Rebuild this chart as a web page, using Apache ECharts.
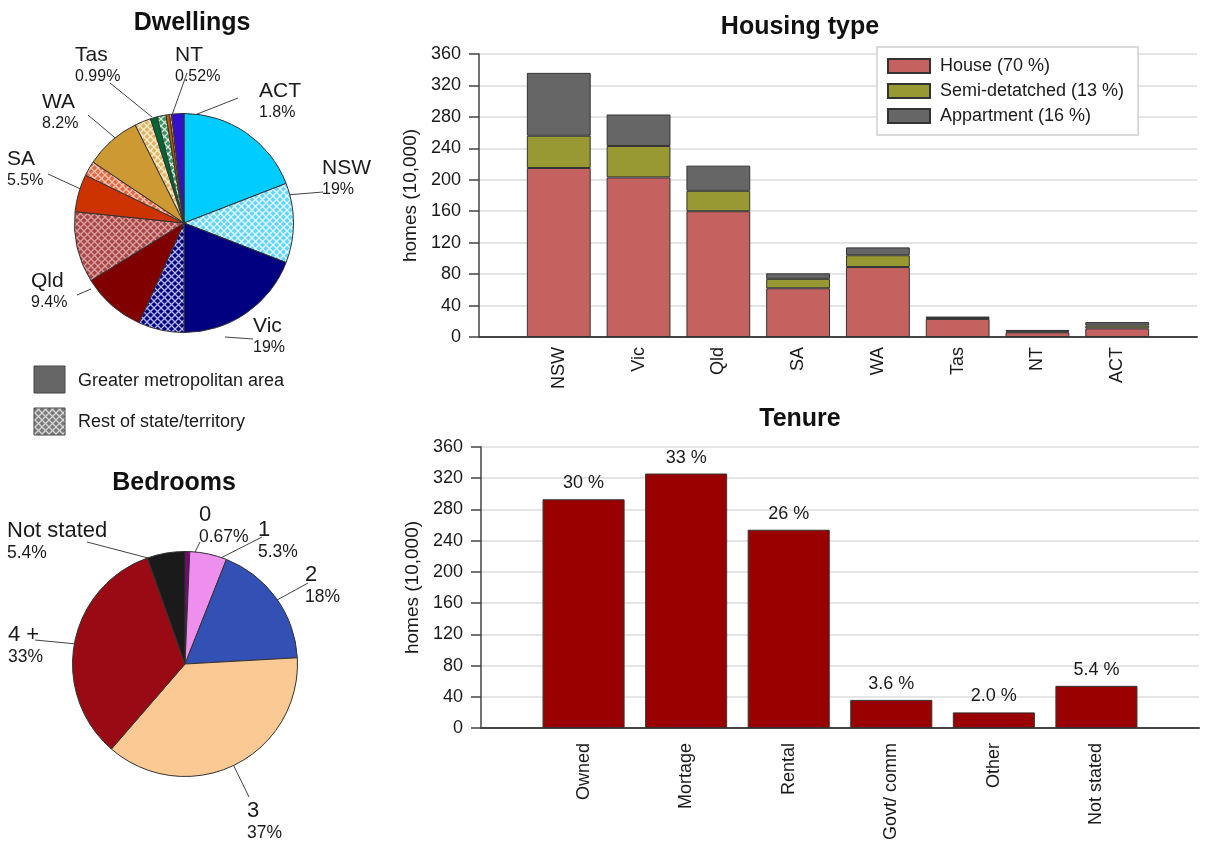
<!DOCTYPE html>
<html>
<head>
<meta charset="utf-8">
<script src="https://cdn.jsdelivr.net/npm/echarts@6/dist/echarts.min.js"></script>
<style>
  html, body { margin: 0; padding: 0; background: #fff; }
  #chart { width: 1205px; height: 843px; }
</style>
</head>
<body>
<div id="chart"></div>
<script>
// ---- Dwellings by state (per cent of all dwellings) ----
const states = ['NSW', 'Vic', 'Qld', 'SA', 'WA', 'Tas', 'NT', 'ACT'];
const metroShare = [19, 19, 9.4, 5.5, 8.2, 0.99, 0.52, 1.8];
const restShare = [11.7, 6.7, 10.4, 2.2, 2.4, 1.3, 0.3, null]; // ACT: no rest-of-territory slice
const stateShareText = ['19%', '19%', '9.4%', '5.5%', '8.2%', '0.99%', '0.52%', '1.8%'];

// ---- Bedrooms (per cent of dwellings) ----
const bedroomCats = ['0', '1', '2', '3', '4 +', 'Not stated'];
const bedroomShare = [0.67, 5.3, 18, 37, 33, 5.4];
const bedroomShareText = ['0.67%', '5.3%', '18%', '37%', '33%', '5.4%'];

// ---- Housing type by state (homes, 10,000) ----
const housingSeriesNames = ['House (70 %)', 'Semi-detatched (13 %)', 'Appartment (16 %)'];
const houses = [215, 203, 160, 62, 89, 23, 6, 11];
const semiDetached = [41, 40, 26, 12, 15, 1, 1, 3.5];
const apartments = [80, 40, 32, 7, 10, 2, 2, 4.5];

// ---- Tenure (homes, 10,000) ----
const tenureCats = ['Owned', 'Mortage', 'Rental', 'Govt/ comm', 'Other', 'Not stated'];
const tenureHomes = [293, 326, 254, 36, 20, 54];
const tenureShareText = ['30 %', '33 %', '26 %', '3.6 %', '2.0 %', '5.4 %'];

// value axis ticks shared by both bar charts
const yMin = 0, yMax = 360, yStep = 40;

// ---------------------------------------------------------------
const FONT = 'Liberation Sans, Arial, Helvetica, sans-serif';
const INK = '#1a1a1a';

// cross-hatched fill used for "rest of state/territory"
function hatch(base, line) {
  const c = document.createElement('canvas');
  c.width = 7; c.height = 7;
  const g = c.getContext('2d');
  g.fillStyle = base; g.fillRect(0, 0, 7, 7);
  g.strokeStyle = line; g.lineWidth = 1.3;
  g.beginPath();
  g.moveTo(-1, -1); g.lineTo(8, 8);
  g.moveTo(8, -1); g.lineTo(-1, 8);
  g.stroke();
  return { image: c, repeat: 'repeat' };
}

const metroColors = ['#00ccff', '#000080', '#800000', '#cc3300', '#cc9933', '#006633', '#cc5500', '#3311cc'];
const restFills = [
  hatch('#5fd6fb', '#e8f9ff'),
  hatch('#000080', '#b8b8f0'),
  hatch('#a84646', '#dba0a0'),
  hatch('#e06a46', '#fbc4ae'),
  hatch('#dcb46a', '#fbecc8'),
  hatch('#3a9060', '#d0ecd8'),
  hatch('#d27a3a', '#f4c8a0'),
  null
];

// label placement around the pies (top-left of label block, guide line end points)
const dwellSpots = {
  NSW: { x: 322, y: 156, line: [[323, 192], [274, 196]] },
  Vic: { x: 253, y: 314, line: [[253, 339], [225, 337]] },
  Qld: { x: 31, y: 269, line: [[77, 295], [91, 289]] },
  SA:  { x: 7, y: 147, line: [[48, 174], [87, 192]] },
  WA:  { x: 42, y: 90, line: [[88, 115], [120, 142]] },
  Tas: { x: 75, y: 43, line: [[110, 83], [152, 117]] },
  NT:  { x: 175, y: 43, line: [[187, 73], [172, 115]] },
  ACT: { x: 259, y: 79, line: [[238, 98], [177, 122]] }
};
const bedSpots = {
  '0':          { x: 199, y: 503, line: [[200, 542], [191, 560]] },
  '1':          { x: 258, y: 518, line: [[262, 537], [207, 565]] },
  '2':          { x: 305, y: 563, line: [[308, 583], [268, 605]] },
  '3':          { x: 247, y: 799, line: [[249, 797], [230, 758]] },
  '4 +':        { x: 8, y: 623, line: [[35, 640], [87, 645]] },
  'Not stated': { x: 7, y: 519, line: [[87, 542], [148, 558]] }
};

// pie data
const dwellData = [];
const dwellSpotByIndex = [];
states.forEach((s, i) => {
  dwellSpotByIndex[dwellData.length] = dwellSpots[s];
  dwellData.push({
    name: s, value: metroShare[i],
    itemStyle: { color: metroColors[i] },
    label: { show: true, formatter: '{n|' + s + '}\n{p|' + stateShareText[i] + '}' }
  });
  if (restShare[i] != null) {
    dwellData.push({
      name: s + ' (rest)', value: restShare[i],
      itemStyle: { color: restFills[i] },
      label: { show: false }, labelLine: { show: false }
    });
  }
});

const bedColors = ['#800080', '#ee8fee', '#3350b4', '#fbc994', '#990a15', '#1a1a1a'];
const bedData = bedroomCats.map((c, i) => ({
  name: c, value: bedroomShare[i],
  itemStyle: { color: bedColors[i] },
  label: { formatter: '{n|' + c + '}\n{p|' + bedroomShareText[i] + '}' }
}));

function pieLayout(spotFor) {
  return function (params) {
    const s = spotFor(params);
    if (!s) return {};
    return { x: s.x, y: s.y, align: 'left', verticalAlign: 'top', labelLinePoints: s.line, hideOverlap: false };
  };
}

// padded category axes: one empty slot on each side of the bars
const padCats = a => [''].concat(a, ['']);
const padVals = a => [null].concat(a, [null]);

const axisLineStyle = { color: '#444', width: 1.5 };

function valueAxis(gridIndex) {
  return {
    type: 'value', gridIndex, min: yMin, max: yMax, interval: yStep,
    name: 'homes (10,000)', nameLocation: 'middle', nameGap: 54,
    nameTextStyle: { fontFamily: FONT, fontSize: 19, color: INK },
    axisLine: { show: true, lineStyle: axisLineStyle },
    axisTick: { show: true, length: 10, lineStyle: axisLineStyle },
    axisLabel: { fontFamily: FONT, fontSize: 18, color: INK, margin: 18 },
    splitLine: { lineStyle: { color: '#dcdcdc', width: 1.5 } }
  };
}
function catAxis(gridIndex, cats, margin) {
  return {
    type: 'category', gridIndex, data: padCats(cats), boundaryGap: false,
    axisLine: { lineStyle: { color: '#444', width: 2 } },
    axisTick: { show: false },
    axisLabel: { interval: 0, rotate: 90, margin, fontFamily: FONT, fontSize: 18, color: INK },
    splitLine: { show: false }
  };
}

const barBorder = { borderColor: '#333', borderWidth: 1 };
const housingColors = ['#c4625f', '#999933', '#666666'];
const housingValues = [houses, semiDetached, apartments];

const option = {
  animation: false,
  backgroundColor: '#fff',
  textStyle: { fontFamily: FONT },
  title: [
    { text: 'Dwellings', left: 192, top: 11, textAlign: 'center', padding: 0 },
    { text: 'Housing type', left: 800, top: 15, textAlign: 'center', padding: 0 },
    { text: 'Bedrooms', left: 174, top: 471, textAlign: 'center', padding: 0 },
    { text: 'Tenure', left: 800, top: 407, textAlign: 'center', padding: 0 }
  ].map(t => Object.assign(t, { textStyle: { fontFamily: FONT, fontSize: 25, fontWeight: 'bold', color: '#111' } })),
  legend: {
    data: housingSeriesNames,
    icon: 'rect',
    orient: 'vertical', left: 877, top: 47,
    padding: [10, 14, 10, 10], itemGap: 7,
    itemWidth: 42, itemHeight: 14,
    backgroundColor: '#fff', borderColor: '#cfcfcf', borderWidth: 1.5,
    textStyle: { fontFamily: FONT, fontSize: 18, color: INK, padding: [0, 0, 0, 5] }
  },
  grid: [
    { left: 479, top: 54, width: 718, height: 283 },
    { left: 481, top: 447, width: 718, height: 283 }
  ],
  xAxis: [catAxis(0, states, 10), catAxis(1, tenureCats, 15)],
  yAxis: [valueAxis(0), valueAxis(1)],
  graphic: [
    { type: 'rect', shape: { x: 34, y: 366, width: 31, height: 27 }, style: { fill: '#666', stroke: '#444', lineWidth: 1 } },
    { type: 'text', x: 78, y: 381, style: { text: 'Greater metropolitan area', font: '18px ' + FONT, fill: INK, verticalAlign: 'middle' } },
    { type: 'rect', shape: { x: 34, y: 408, width: 31, height: 27 }, style: { fill: hatch('#7a7a7a', '#d6d6d6'), stroke: '#444', lineWidth: 1 } },
    { type: 'text', x: 78, y: 422, style: { text: 'Rest of state/territory', font: '18px ' + FONT, fill: INK, verticalAlign: 'middle' } }
  ],
  series: [
    {
      type: 'pie', name: 'Dwellings', center: [184, 223], radius: 109.5,
      startAngle: 90, clockwise: true, avoidLabelOverlap: false,
      itemStyle: { borderColor: '#333', borderWidth: 1 },
      label: {
        position: 'outside', color: INK,
        rich: {
          n: { fontFamily: FONT, fontSize: 21, lineHeight: 24, color: INK },
          p: { fontFamily: FONT, fontSize: 16, lineHeight: 20, color: INK }
        }
      },
      labelLine: { show: true, lineStyle: { color: '#444', width: 1 } },
      labelLayout: pieLayout(p => dwellSpotByIndex[p.dataIndex]),
      emphasis: { disabled: true },
      data: dwellData
    },
    {
      type: 'pie', name: 'Bedrooms', center: [185, 664], radius: 112.5,
      startAngle: 90, clockwise: true, avoidLabelOverlap: false,
      itemStyle: { borderColor: '#333', borderWidth: 1 },
      label: {
        show: true, position: 'outside', color: INK,
        rich: {
          n: { fontFamily: FONT, fontSize: 22, lineHeight: 24, color: INK },
          p: { fontFamily: FONT, fontSize: 17.5, lineHeight: 20, color: INK }
        }
      },
      labelLine: { show: true, lineStyle: { color: '#444', width: 1 } },
      labelLayout: pieLayout(p => bedSpots[bedroomCats[p.dataIndex]]),
      emphasis: { disabled: true },
      data: bedData
    }
  ].concat(housingSeriesNames.map((name, k) => ({
    type: 'bar', name, stack: 'housing', xAxisIndex: 0, yAxisIndex: 0,
    barWidth: '80%',
    itemStyle: Object.assign({ color: housingColors[k] }, barBorder),
    emphasis: { disabled: true },
    data: padVals(housingValues[k])
  }))).concat([{
    type: 'bar', name: 'Tenure', xAxisIndex: 1, yAxisIndex: 1,
    barWidth: '80%',
    itemStyle: Object.assign({ color: '#990000' }, barBorder),
    label: {
      show: true, position: 'top', distance: 7,
      fontFamily: FONT, fontSize: 18, color: INK,
      formatter: p => tenureShareText[p.dataIndex - 1]
    },
    emphasis: { disabled: true },
    data: padVals(tenureHomes)
  }])
};

const chart = echarts.init(document.getElementById('chart'), null, { renderer: 'canvas' });
chart.setOption(option);
</script>
</body>
</html>
